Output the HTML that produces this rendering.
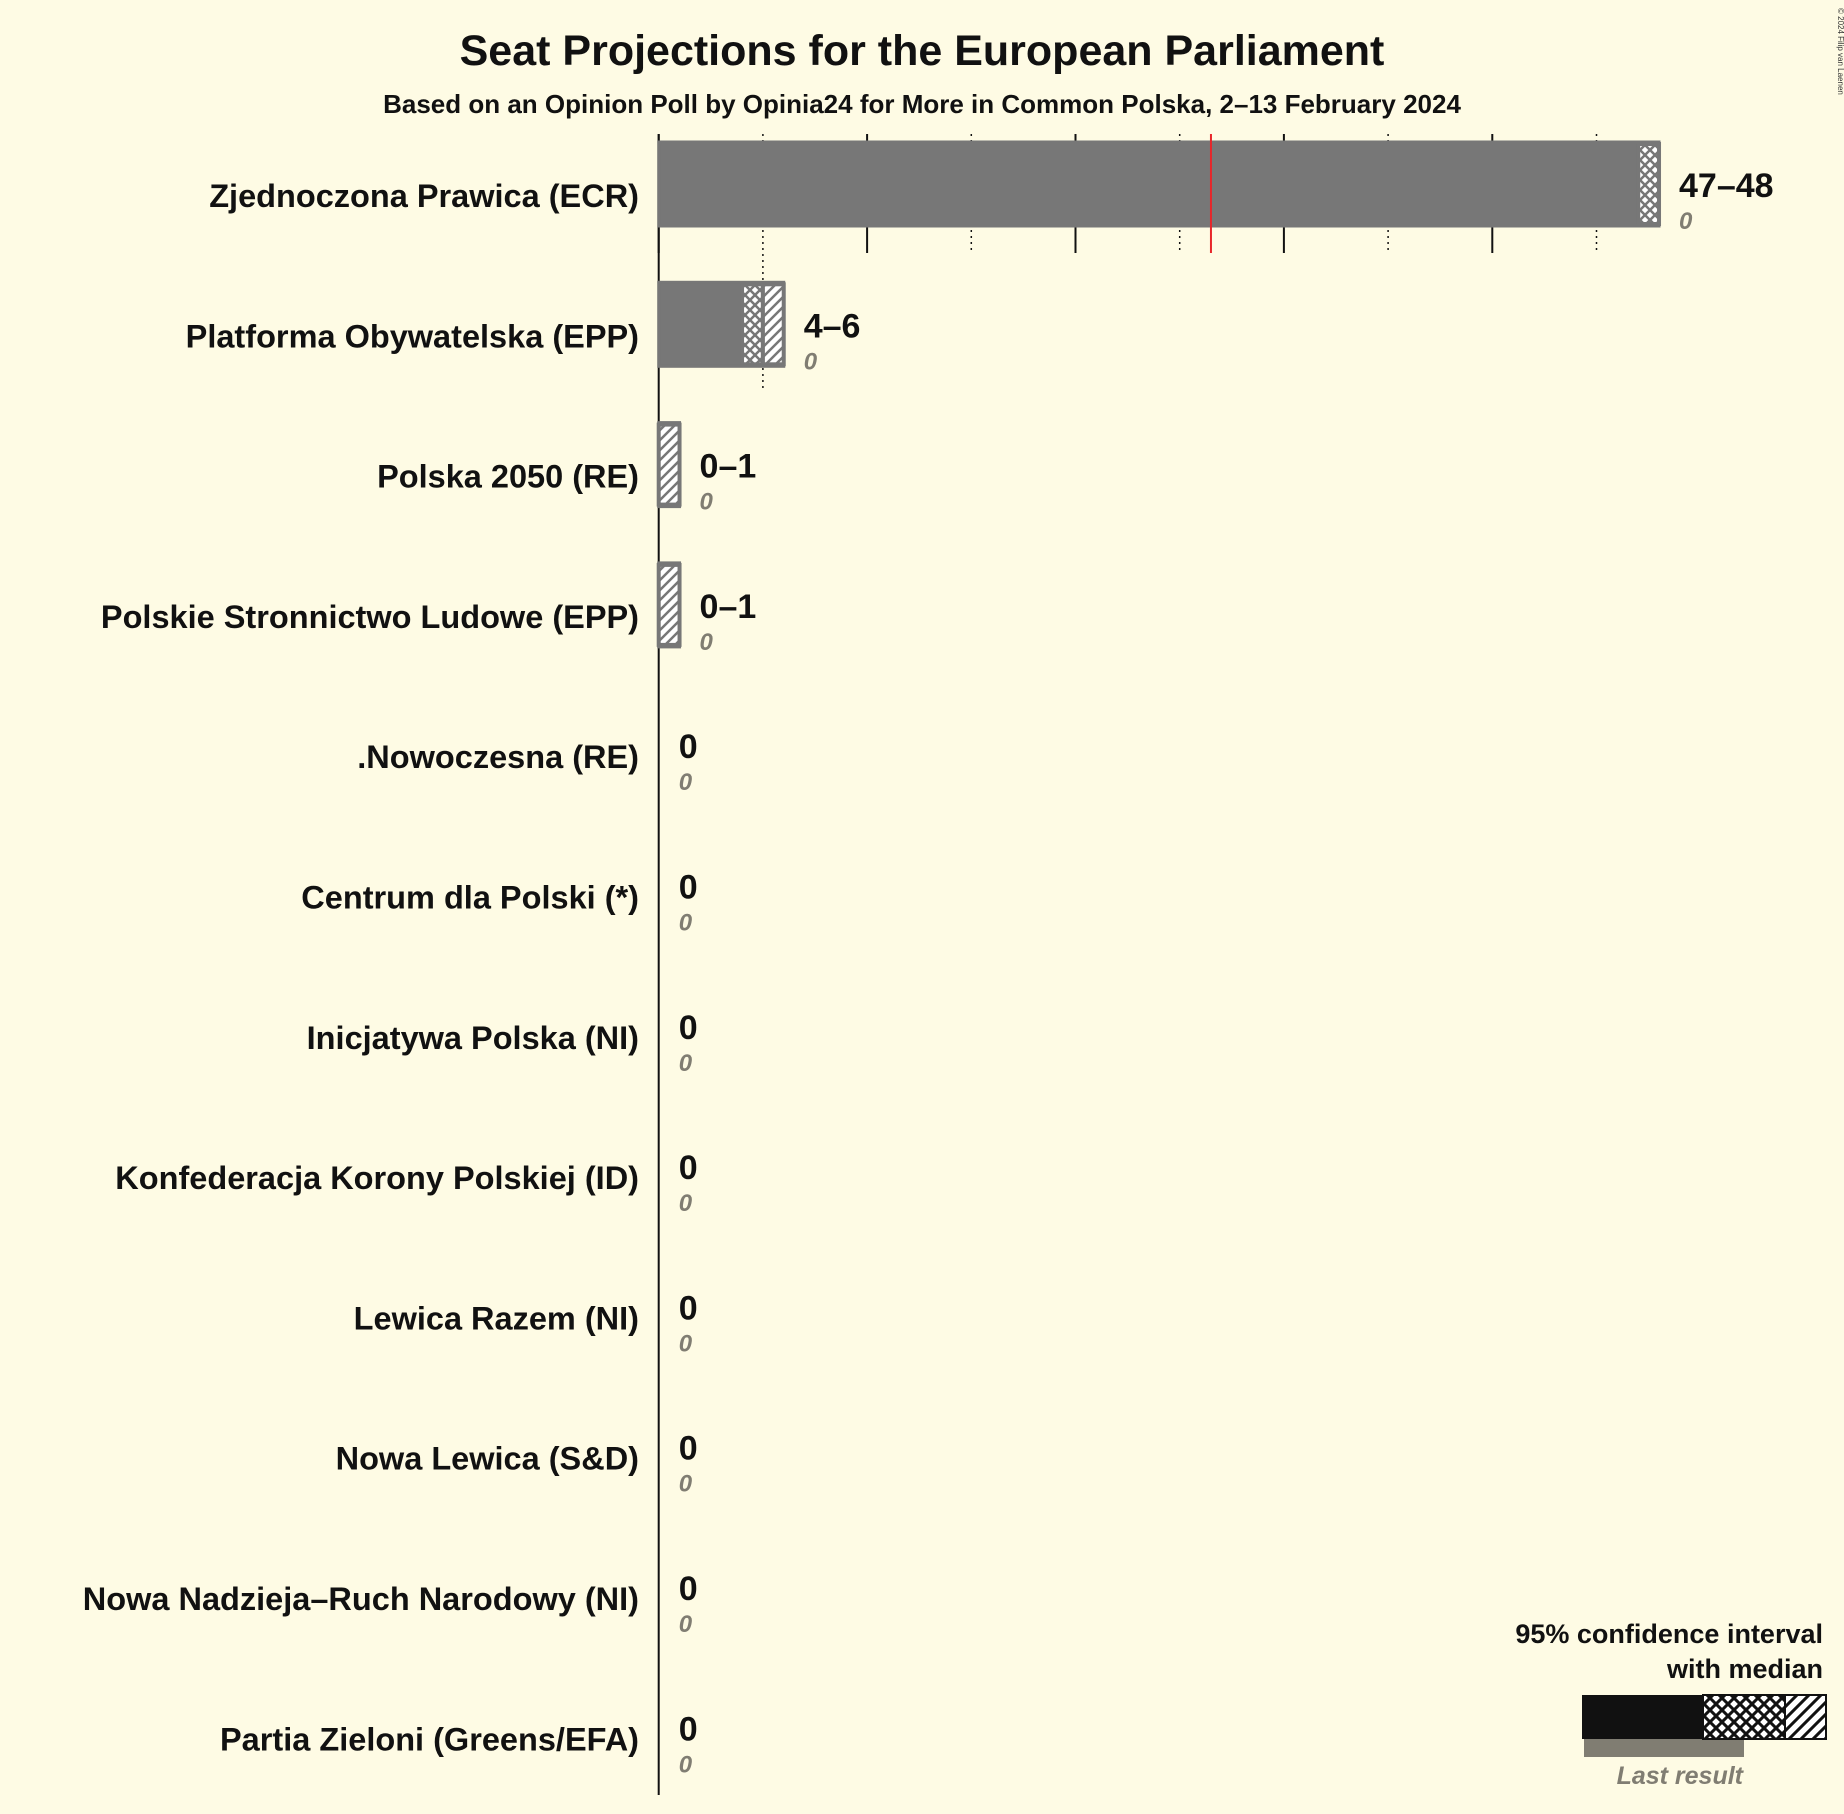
<!DOCTYPE html>
<html><head><meta charset="utf-8">
<style>
body{margin:0;background:#fefbe4;}
svg{display:block;font-family:"Liberation Sans",sans-serif;}
</style></head>
<body>
<svg id="chart" width="1844" height="1814" viewBox="0 0 1844 1814" xmlns="http://www.w3.org/2000/svg">
<defs>
<pattern id="cross" patternUnits="userSpaceOnUse" width="10" height="10">
<rect width="10" height="10" fill="#fff"/>
<path d="M0,0L10,10M10,0L0,10" stroke="#777" stroke-width="2.5"/>
</pattern>
<pattern id="hatch" patternUnits="userSpaceOnUse" width="10" height="10">
<rect width="10" height="10" fill="#fff"/>
<path d="M-2,12L12,-2M-2,2L2,-2M8,12L12,8" stroke="#777" stroke-width="2.5"/>
</pattern>
<pattern id="crossL" patternUnits="userSpaceOnUse" width="12" height="12">
<rect width="12" height="12" fill="#fff"/>
<path d="M0,0L12,12M12,0L0,12" stroke="#111" stroke-width="3"/>
</pattern>
<pattern id="hatchL" patternUnits="userSpaceOnUse" width="12" height="12">
<rect width="12" height="12" fill="#fff"/>
<path d="M-2,14L14,-2M-2,2L2,-2M10,14L14,10" stroke="#111" stroke-width="3"/>
</pattern>
</defs>
<rect width="1844" height="1814" fill="#fefbe4"/>
<text x="922" y="65" text-anchor="middle" font-size="43" font-weight="bold" fill="#111">Seat Projections for the European Parliament</text>
<text x="922" y="113" text-anchor="middle" font-size="26" font-weight="bold" fill="#111">Based on an Opinion Poll by Opinia24 for More in Common Polska, 2–13 February 2024</text>
<text x="1838" y="8" font-size="8" fill="#333" transform="rotate(90 1838 8)">© 2024 Filip van Laenen</text>
<g id="plot"></g>
<g>
<text x="1823" y="1643" text-anchor="end" font-size="27" font-weight="bold" fill="#111">95% confidence interval</text>
<text x="1823" y="1678" text-anchor="end" font-size="27" font-weight="bold" fill="#111">with median</text>
<rect x="1584" y="1739" width="160" height="18" fill="#807d72"/>
<rect x="1582" y="1695" width="121" height="44" fill="#111"/>
<rect x="1703" y="1695" width="82" height="44" fill="url(#crossL)" stroke="#111" stroke-width="2"/>
<rect x="1785" y="1695" width="41" height="44" fill="url(#hatchL)" stroke="#111" stroke-width="2"/>
<text x="1743" y="1784" text-anchor="end" font-size="25" font-weight="bold" font-style="italic" fill="#807d72">Last result</text>
</g>
</svg>
<script>
const parties = ["Zjednoczona Prawica (ECR)","Platforma Obywatelska (EPP)","Polska 2050 (RE)","Polskie Stronnictwo Ludowe (EPP)",".Nowoczesna (RE)","Centrum dla Polski (*)","Inicjatywa Polska (NI)","Konfederacja Korony Polskiej (ID)","Lewica Razem (NI)","Nowa Lewica (S&D)","Nowa Nadzieja–Ruch Narodowy (NI)","Partia Zieloni (Greens/EFA)"];
const lows = [47,4,0,0,0,0,0,0,0,0,0,0];
const medians = [48,5,0,0,0,0,0,0,0,0,0,0];
const highs = [48,6,1,1,0,0,0,0,0,0,0,0];
const lastResults = [0,0,0,0,0,0,0,0,0,0,0,0];
const rangeLabels = ["47–48","4–6","0–1","0–1","0","0","0","0","0","0","0","0"];
const majority = 26.5;
const ticks = [0,5,10,15,20,25,30,35,40,45];

const NS="http://www.w3.org/2000/svg";
const g=document.getElementById('plot');
const x0=658.7, pps=20.84, rowY0=184, rowH=140.3, barH=84;
const xs=v=>x0+v*pps;
const ys=i=>rowY0+i*rowH;
function mk(tag,attrs,parent){const e=document.createElementNS(NS,tag);for(const k in attrs)e.setAttribute(k,attrs[k]);(parent||g).appendChild(e);return e;}

ticks.forEach((t,k)=>{
  const major=t%10===0;
  const top=134, bot = t===5?392:253;
  const tl=mk('line',{x1:xs(t),x2:xs(t),y1:top,y2:bot,stroke:'#111','stroke-width':major?2:1.5,'stroke-dasharray':major?'none':'2,4'});
  
  
});
const ax=mk('line',{x1:xs(0),x2:xs(0),y1:134,y2:1795,stroke:'#111','stroke-width':2});



parties.forEach((p,i)=>{
  const cy=ys(i), top=cy-barH/2;
  const lab=mk('text',{x:639,y:cy+23,'text-anchor':'end','font-size':32.5,'font-weight':'bold',fill:'#111'});
  lab.textContent=p;
  
  
  if(highs[i]>0){
    const solid=mk('rect',{x:xs(0),y:top,width:xs(lows[i])-xs(0),height:barH,fill:'#777'});
    
    
    if(medians[i]>lows[i]){
      const c=mk('rect',{x:xs(lows[i]),y:top+2,width:xs(medians[i])-xs(lows[i]),height:barH-4,fill:'url(#cross)',stroke:'#777','stroke-width':4});
      
      
    }
    if(highs[i]>medians[i]){
      const h=mk('rect',{x:xs(medians[i]),y:top+2,width:xs(highs[i])-xs(medians[i]),height:barH-4,fill:'url(#hatch)',stroke:'#777','stroke-width':4});
      
      
    }
    const o=mk('rect',{x:xs(0),y:top,width:xs(highs[i])-xs(0),height:barH,fill:'none',stroke:'#777','stroke-width':3});
    
    
  }
  const lx=xs(highs[i])+20;
  const rl=mk('text',{x:lx,y:cy+13,'font-size':34,'font-weight':'bold',fill:'#111'});
  rl.textContent=rangeLabels[i];
  
  
  const ll=mk('text',{x:lx,y:cy+45,'font-size':24,'font-weight':'bold','font-style':'italic',fill:'#807d72'});
  ll.textContent=String(lastResults[i]);
  
  
});
const ml=mk('line',{x1:xs(majority),x2:xs(majority),y1:134,y2:253,stroke:'#e8262a','stroke-width':2});


</script>
</body></html>
